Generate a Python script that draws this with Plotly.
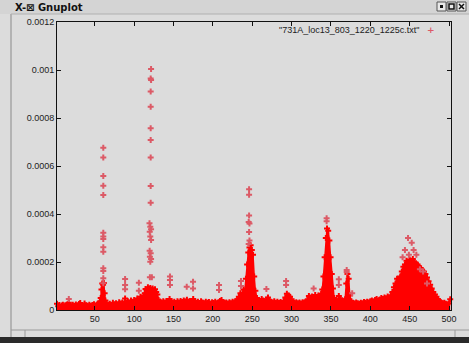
import plotly.graph_objects as go

# ---- data ----
env_x = [2, 3.5, 5, 6.5, 8, 9.5, 11, 12.5, 14, 15.5, 17, 18.5, 20, 22, 24, 26, 28, 30, 31.5, 33,
         35, 37, 39, 41, 43, 45, 47, 49, 51, 53, 55, 56.5, 57.5,
         58.5, 59.5, 60.5, 61.5, 62.5, 63.5, 65, 67, 69, 71, 73, 75, 77, 79, 81, 83, 85, 87, 88.5, 90,
         92, 94, 96, 98, 100, 102, 104, 106, 108, 110, 112, 113.5,
         114.5, 116, 117.5, 119, 120.5, 122, 123.5, 125, 126.5, 128, 129.5, 131, 133, 135, 137, 139,
         141, 143, 145, 147, 149, 151, 153, 155, 157, 159, 161, 163, 165, 167, 169, 171, 173, 175,
         177, 179, 181, 183, 185, 187, 189, 191, 193, 195, 197, 199, 201, 203, 205, 207, 209, 211,
         213, 215, 217, 219, 221, 223, 225, 227, 229, 231, 233, 235, 237, 239,
         240.5, 242, 243.5, 245, 246.5, 248, 249.5, 251, 252.5, 254, 256, 258, 260, 262, 264, 266,
         268, 270, 272, 274, 276, 278, 280, 282, 284, 286, 288, 290, 292, 294, 296, 298, 300, 302,
         304, 306, 308, 310, 312, 314, 316, 318, 320, 322, 324, 326, 328, 330, 332, 334, 336, 337.5,
         339, 340.5, 342, 343.5, 345, 346.5, 348, 349.5, 351, 352.5, 354, 356, 358, 360, 362, 364,
         366, 368, 369.5, 371, 372.5, 374, 376, 378, 380, 382, 384, 386, 388, 390, 392, 394, 396,
         398, 400, 402, 404, 406, 408, 410, 412, 414, 416, 418, 420, 422, 424, 426, 428, 430, 432,
         434, 436, 438, 440, 442, 444, 446, 448, 450, 452, 454, 456, 458, 460, 462, 464, 466, 468,
         470, 472, 474, 476, 478, 480, 482, 484, 486, 488, 490, 492, 494, 496, 498, 500, 501.5]
env_y = [0.000026, 0.000016, 0.000021, 0.000014, 0.000019, 0.000022, 0.000015, 0.000020, 0.000017,
         0.000024, 0.000030, 0.000020, 0.000016, 0.000022, 0.000018, 0.000023, 0.000017, 0.000025,
         0.000029, 0.000019, 0.000016, 0.000027, 0.000020, 0.000017, 0.000022, 0.000018, 0.000021,
         0.000024, 0.000019, 0.000023, 0.000028, 0.000035, 0.000050,
         0.000085, 0.000110, 0.000105, 0.000112, 0.000070, 0.000040, 0.000028, 0.000022, 0.000026,
         0.000021, 0.000030, 0.000024, 0.000028, 0.000022, 0.000032, 0.000027, 0.000031, 0.000026,
         0.000048, 0.000030, 0.000036, 0.000030, 0.000040, 0.000034, 0.000042, 0.000035, 0.000048,
         0.000040, 0.000055, 0.000046, 0.000060, 0.000070,
         0.000088, 0.000082, 0.000095, 0.000088, 0.000092, 0.000085, 0.000090, 0.000080, 0.000086,
         0.000075, 0.000065, 0.000042, 0.000035, 0.000030, 0.000036, 0.000031, 0.000038, 0.000033,
         0.000046, 0.000036, 0.000030, 0.000034, 0.000029, 0.000036, 0.000031, 0.000037, 0.000033,
         0.000040, 0.000035, 0.000043, 0.000034, 0.000038, 0.000032, 0.000046, 0.000036, 0.000030,
         0.000034, 0.000029, 0.000036, 0.000031, 0.000028, 0.000034, 0.000030, 0.000033, 0.000027,
         0.000032, 0.000029, 0.000034, 0.000028, 0.000032, 0.000038, 0.000042, 0.000033, 0.000029,
         0.000031, 0.000027, 0.000032, 0.000028, 0.000034, 0.000031, 0.000036, 0.000045, 0.000055,
         0.000070, 0.000062, 0.000085, 0.000078,
         0.00013, 0.00019, 0.00024, 0.00026, 0.00027, 0.00025, 0.00023, 0.00014, 0.00008, 0.00005,
         0.000042, 0.000038, 0.000046, 0.000040, 0.000036, 0.000043, 0.000052, 0.000040, 0.000034,
         0.000031, 0.000036, 0.000030, 0.000034, 0.000029, 0.000033, 0.000030, 0.000038, 0.000052,
         0.000068, 0.000060, 0.000055, 0.000045, 0.000034, 0.000029, 0.000032, 0.000028, 0.000031,
         0.000027, 0.000032, 0.000030, 0.000036, 0.000042, 0.000058, 0.000052, 0.000056, 0.000050,
         0.000062, 0.000054, 0.000060, 0.000055, 0.000068, 0.000085,
         0.00014, 0.00022, 0.00030, 0.00034, 0.00033, 0.00029, 0.00022, 0.00015, 0.00009, 0.00005,
         0.000042, 0.000036, 0.000058, 0.000048, 0.000040, 0.000036, 0.000045, 0.00011, 0.00015,
         0.00013, 0.00006, 0.000036, 0.000030, 0.000027, 0.000031, 0.000028, 0.000026, 0.000030,
         0.000028, 0.000033, 0.000030, 0.000034, 0.000031, 0.000036, 0.000040, 0.000035, 0.000042,
         0.000046, 0.000040, 0.000044, 0.000050, 0.000046, 0.000052, 0.000048, 0.000056, 0.000052,
         0.000060, 0.000075, 0.000095, 0.00011, 0.00013, 0.000125, 0.00014, 0.00016, 0.00018,
         0.00019, 0.000205, 0.0002, 0.00021, 0.000205, 0.000212, 0.0002, 0.000195, 0.00019, 0.00018,
         0.000175, 0.000165, 0.00016, 0.00015, 0.000135, 0.00012, 0.000105, 0.00009, 0.000075,
         0.000065, 0.000055, 0.000045, 0.000038, 0.000032, 0.000028, 0.000030, 0.000026, 0.000024,
         0.000028, 0.000045, 0.000040]

out_x = [60.8] * 14 + [121.5, 121, 121.5, 121, 121, 121, 121, 121, 121, 121, 119.5, 120.5, 121.5,
                       119.8, 120.5, 121.5, 119.7, 121, 120, 121.5, 120.5, 120, 122.5] + \
        [17, 88.5, 88.5, 88.5, 106, 106, 145.5, 145.5, 145.5, 166.8, 174.8, 174.8, 207.8, 207.8,
         235.7, 235.7, 246, 246, 246, 245.5, 246.5, 246, 246.5, 245.5, 268, 293, 293, 328, 344.5,
         344.5, 360, 360, 370, 370, 377, 447.9, 452.6, 444, 455, 449, 458.5, 441, 463, 467, 472]
out_y = [0.000676, 0.000635, 0.000558, 0.000518, 0.000479, 0.000322, 0.000306, 0.000296, 0.000261,
         0.000243, 0.000174, 0.000163, 0.000132, 0.000111] + \
        [0.001004, 0.000965, 0.000958, 0.00091, 0.000847, 0.000757, 0.000708, 0.000635, 0.000517,
         0.000447, 0.000361, 0.000347, 0.000336, 0.000326, 0.000306, 0.000292, 0.000247, 0.000236,
         0.000222, 0.000213, 0.000201, 0.000136, 0.000136] + \
        [0.000046, 0.000129, 0.000104, 0.000086, 0.000114, 0.00008, 0.00014, 0.000125, 0.000104,
         0.000097, 0.000118, 0.00009, 0.000104, 0.000083, 0.000121, 0.0001, 0.000503, 0.00048,
         0.000394, 0.000367, 0.00036, 0.000325, 0.00029, 0.000275, 0.000088, 0.000121, 0.000104,
         0.00009, 0.000382, 0.00037, 0.000128, 0.000104, 0.000167, 0.000158, 0.00007, 0.0003,
         0.00028, 0.00025, 0.00025, 0.00023, 0.00023, 0.00022, 0.00017, 0.00016, 0.00011]

x_ticks = [50, 100, 150, 200, 250, 300, 350, 400, 450, 500]
y_ticks = [0, 0.0002, 0.0004, 0.0006, 0.0008, 0.001, 0.0012]
y_tick_text = ["0", "0.0002", "0.0004", "0.0006", "0.0008", "0.001", "0.0012"]
series_name = '"731A_loc13_803_1220_1225c.txt"'

# ---- layout geometry (pixels) ----
W, H = 469, 343
L, R, T, B = 57, 451, 22, 310
BG = "#dcdcdc"


def px(x):
    return (x - L) / (R - L)


def py(y):
    return (B - y) / (B - T)


fig = go.Figure()
fig.add_trace(go.Scatter(x=env_x, y=env_y, mode="lines+markers", fill="tozeroy",
                         line=dict(color="#ff0000", width=1.5), fillcolor="#ff0000",
                         marker=dict(symbol="cross", size=5, color="#ff0000"),
                         hoverinfo="skip", showlegend=False, cliponaxis=False))
fig.add_trace(go.Scatter(x=out_x, y=out_y, mode="markers",
                         marker=dict(symbol="cross", size=5, color="#dc5a66"),
                         showlegend=False, cliponaxis=False))

font = dict(family="Liberation Sans", size=9, color="#222222")
axis_common = dict(showline=True, linecolor="#111111", linewidth=1, mirror="ticks",
                   ticks="inside", ticklen=4, tickcolor="#111111", showgrid=False,
                   zeroline=False, tickfont=font)
fig.update_xaxes(range=[2, 502.5], tickvals=x_ticks, ticktext=[str(v) for v in x_ticks],
                 **axis_common)
fig.update_yaxes(range=[0, 0.0012], tickvals=y_ticks, ticktext=y_tick_text, **axis_common)

shapes = []
# window frame decorations
shapes.append(dict(type="rect", xref="paper", yref="paper", x0=px(0), x1=px(W), y0=py(14), y1=py(0),
                   fillcolor="#d4d4d4", line=dict(width=0), layer="below"))
shapes.append(dict(type="line", xref="paper", yref="paper", x0=px(11), x1=px(11), y0=py(337), y1=py(14),
                   line=dict(color="#8a8a8a", width=1)))
shapes.append(dict(type="line", xref="paper", yref="paper", x0=px(11), x1=px(W), y0=py(14), y1=py(14),
                   line=dict(color="#b0b0b0", width=1)))
shapes.append(dict(type="line", xref="paper", yref="paper", x0=px(11), x1=px(W), y0=py(330), y1=py(330),
                   line=dict(color="#9a9a9a", width=1)))
for xx in (25, 455):
    shapes.append(dict(type="line", xref="paper", yref="paper", x0=px(xx), x1=px(xx), y0=py(337),
                       y1=py(330), line=dict(color="#9a9a9a", width=1)))
shapes.append(dict(type="rect", xref="paper", yref="paper", x0=px(0), x1=px(W), y0=py(H), y1=py(337),
                   fillcolor="#2a2a2a", line=dict(width=0)))
# title bar buttons
for i, x0 in enumerate((437, 447, 457)):
    shapes.append(dict(type="rect", xref="paper", yref="paper", x0=px(x0), x1=px(x0 + 9),
                       y0=py(11), y1=py(2), fillcolor="#e8e8e8", line=dict(color="#555555", width=1)))
shapes.append(dict(type="rect", xref="paper", yref="paper", x0=px(440), x1=px(443), y0=py(8), y1=py(5),
                   fillcolor="#111111", line=dict(width=0)))
shapes.append(dict(type="rect", xref="paper", yref="paper", x0=px(449), x1=px(454), y0=py(9), y1=py(4),
                   fillcolor="rgba(0,0,0,0)", line=dict(color="#111111", width=1.5)))
shapes.append(dict(type="line", xref="paper", yref="paper", x0=px(459), x1=px(464), y0=py(9), y1=py(4),
                   line=dict(color="#111111", width=1.5)))
shapes.append(dict(type="line", xref="paper", yref="paper", x0=px(459), x1=px(464), y0=py(4), y1=py(9),
                   line=dict(color="#111111", width=1.5)))

annotations = [
    dict(xref="paper", yref="paper", x=px(13), y=py(7), xanchor="left", yanchor="middle",
         text="<b>X-⊠ Gnuplot</b>", showarrow=False,
         font=dict(family="DejaVu Sans", size=10, color="#111111")),
    dict(xref="paper", yref="paper", x=px(422), y=py(30), xanchor="right", yanchor="middle",
         text=series_name, showarrow=False, font=font),
    dict(xref="paper", yref="paper", x=px(431), y=py(30), xanchor="center", yanchor="middle",
         text="<b>+</b>", showarrow=False, font=dict(family="DejaVu Sans", size=9, color="#dc5a66")),
]

fig.update_layout(width=W, height=H, autosize=False,
                  margin=dict(l=L, r=W - R, t=T, b=H - B, pad=0),
                  paper_bgcolor=BG, plot_bgcolor=BG,
                  shapes=shapes, annotations=annotations, showlegend=False)

fig.write_html("out.html", config={"displayModeBar": False},
               post_script="document.body.style.margin='0';")
